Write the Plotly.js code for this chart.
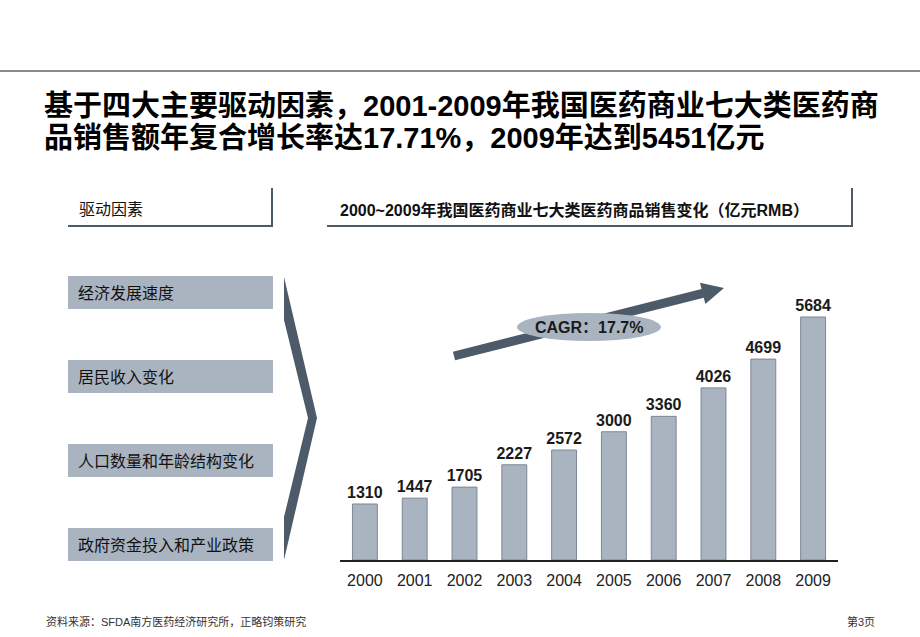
<!DOCTYPE html>
<html>
<head>
<meta charset="utf-8">
<script src="https://cdn.plot.ly/plotly-3.0.1.min.js"></script>
<style>
html,body{margin:0;padding:0;background:#fff;}
#chart{width:920px;height:637px;}
</style>
</head>
<body>
<div id="chart"></div>
<script>
// ---- data ----
const years = ['2000','2001','2002','2003','2004','2005','2006','2007','2008','2009'];
const sales = [1310,1447,1705,2227,2572,3000,3360,4026,4699,5684];
const drivers = ['经济发展速度','居民收入变化','人口数量和年龄结构变化','政府资金投入和产业政策'];
const titleLines = ['基于四大主要驱动因素，2001-2009年我国医药商业七大类医药商','品销售额年复合增长率达17.71%，2009年达到5451亿元'];
const driverHeader = '驱动因素';
const chartTitle = '2000~2009年我国医药商业七大类医药商品销售变化（亿元RMB）';
const cagrLabel = 'CAGR：17.7%';
const sourceNote = '资料来源：SFDA南方医药经济研究所，正略钧策研究';
const pageLabel = '第3页';

// ---- helpers (pixel -> paper) ----
const W = 920, H = 637;
const px = x => x / W;
const py = y => 1 - y / H;
const FONT = 'Liberation Sans, Arial, Noto Sans CJK SC, sans-serif';
const DARK = '#4d5a6a';
const BOXFILL = '#aab4c1';

function polyPath(pts){
  return 'M' + pts.map(p => px(p[0]).toFixed(5) + ',' + py(p[1]).toFixed(5)).join(' L') + ' Z';
}
function arrowPts(x0,y0,x1,y1,w,hl,hw){
  const dx=x1-x0, dy=y1-y0, L=Math.hypot(dx,dy);
  const ux=dx/L, uy=dy/L, nx=-uy, ny=ux;
  const bx=x1-ux*hl, by=y1-uy*hl;
  return [
    [x0+nx*w/2, y0+ny*w/2],
    [bx+nx*w/2, by+ny*w/2],
    [bx+nx*hw, by+ny*hw],
    [x1, y1],
    [bx-nx*hw, by-ny*hw],
    [bx-nx*w/2, by-ny*w/2],
    [x0-nx*w/2, y0-ny*w/2]
  ];
}

const shapes = [];
const annotations = [];

// top rule
shapes.push({type:'line', xref:'paper', yref:'paper', x0:0, x1:1, y0:py(71), y1:py(71), line:{color:'#8a8a8a', width:2}});

// title
titleLines.forEach((t,i)=>{
  annotations.push({xref:'paper', yref:'paper', x:px(42), y:py(106 + i*32), xanchor:'left', yanchor:'middle',
    text:'<b>'+t+'</b>', showarrow:false, font:{family:FONT, size:29, color:'#000'}});
});

// header: drivers
annotations.push({xref:'paper', yref:'paper', x:px(77), y:py(210), xanchor:'left', yanchor:'middle',
  text:driverHeader, showarrow:false, font:{family:FONT, size:16, color:'#111'}});
shapes.push({type:'line', xref:'paper', yref:'paper', x0:px(68), x1:px(273), y0:py(226), y1:py(226), line:{color:DARK, width:2}});
shapes.push({type:'line', xref:'paper', yref:'paper', x0:px(272), x1:px(272), y0:py(188), y1:py(227), line:{color:DARK, width:2}});

// header: chart
annotations.push({xref:'paper', yref:'paper', x:px(338), y:py(210), xanchor:'left', yanchor:'middle',
  text:'<b>'+chartTitle+'</b>', showarrow:false, font:{family:FONT, size:16, color:'#111'}});
shapes.push({type:'line', xref:'paper', yref:'paper', x0:px(327), x1:px(853), y0:py(226), y1:py(226), line:{color:DARK, width:2}});
shapes.push({type:'line', xref:'paper', yref:'paper', x0:px(852), x1:px(852), y0:py(188), y1:py(227), line:{color:DARK, width:2}});

// driver boxes
drivers.forEach((d,i)=>{
  const top = 276 + i*84;
  shapes.push({type:'rect', xref:'paper', yref:'paper', x0:px(68), x1:px(273), y0:py(top), y1:py(top+33),
    fillcolor:BOXFILL, line:{width:0}, layer:'below'});
  annotations.push({xref:'paper', yref:'paper', x:px(76), y:py(top+17), xanchor:'left', yanchor:'middle',
    text:d, showarrow:false, font:{family:FONT, size:16, color:'#111'}});
});

// chevron
shapes.push({type:'path', xref:'paper', yref:'paper',
  path: polyPath([[284,277],[317,418],[284,560],[284,517],[308,418],[284,320]]),
  fillcolor:DARK, line:{width:0}});

// CAGR arrow + ellipse
shapes.push({type:'path', xref:'paper', yref:'paper',
  path: polyPath(arrowPts(454,356,724,288,9,22,11)), fillcolor:DARK, line:{width:0}});
shapes.push({type:'circle', xref:'paper', yref:'paper', x0:px(517), x1:px(661), y0:py(313), y1:py(341),
  fillcolor:BOXFILL, line:{width:0}});
annotations.push({xref:'paper', yref:'paper', x:px(589), y:py(327), xanchor:'center', yanchor:'middle',
  text:'<b>'+cagrLabel+'</b>', showarrow:false, font:{family:FONT, size:16, color:'#1a1a1a'}});

// footer
annotations.push({xref:'paper', yref:'paper', x:px(44), y:py(621), xanchor:'left', yanchor:'middle',
  text:sourceNote, showarrow:false, font:{family:FONT, size:11, color:'#333'}});
annotations.push({xref:'paper', yref:'paper', x:px(877), y:py(621), xanchor:'right', yanchor:'middle',
  text:pageLabel, showarrow:false, font:{family:FONT, size:11, color:'#333'}});

// bar chart
const plotTop = 260, plotBottom = 560, pxPerUnit = 243/5684;
const trace = {
  type:'bar', x:years, y:sales,
  marker:{color:BOXFILL, line:{color:'#7d8794', width:1}},
  text:sales.map(String), textposition:'outside', cliponaxis:false, constraintext:'none',
  textfont:{family:FONT, size:16, color:'#1a1a1a'},
  texttemplate:'<b>%{text}</b>',
  hoverinfo:'none'
};

const layout = {
  width:W, height:H,
  margin:{l:0, r:0, t:0, b:0},
  paper_bgcolor:'#fff', plot_bgcolor:'rgba(0,0,0,0)',
  showlegend:false,
  bargap:0.5,
  xaxis:{domain:[px(340), px(838)], type:'category', showgrid:false, zeroline:false,
    showline:true, linecolor:'#222', linewidth:1.5, ticks:'', ticklen:0, ticklabelstandoff:5,
    tickfont:{family:FONT, size:16, color:'#222'}, fixedrange:true},
  yaxis:{domain:[py(plotBottom), py(plotTop)], range:[0, (plotBottom-plotTop)/pxPerUnit],
    visible:false, showgrid:false, zeroline:false, fixedrange:true},
  shapes:shapes, annotations:annotations
};

Plotly.newPlot('chart', [trace], layout, {displayModeBar:false, staticPlot:true});
</script>
</body>
</html>
